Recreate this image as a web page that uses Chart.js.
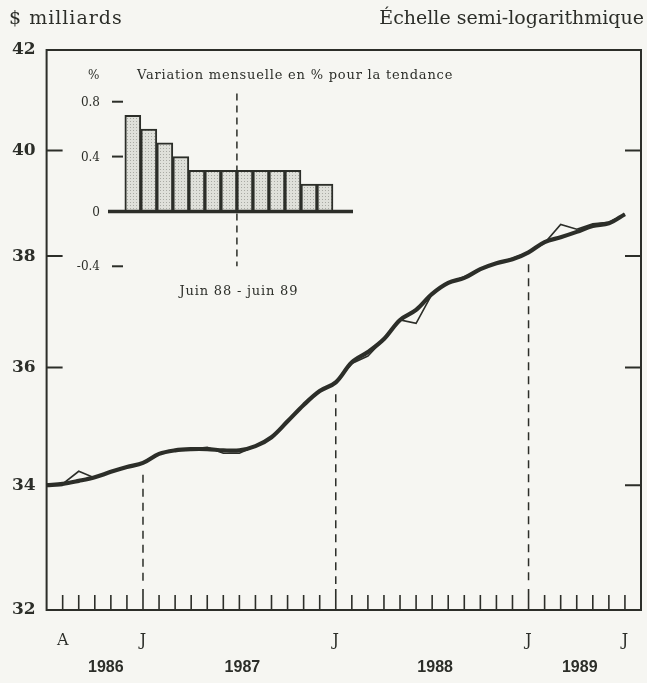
<!DOCTYPE html>
<html>
<head>
<meta charset="utf-8">
<script src="https://cdn.jsdelivr.net/npm/chart.js@4.4.0/dist/chart.umd.min.js"></script>
<style>
  html, body { margin: 0; padding: 0; background: #f6f6f2; }
  #wrap { position: relative; width: 647px; height: 683px; }
  canvas { position: absolute; left: 0; top: 0; }
  #insetChart { pointer-events: none; }
</style>
</head>
<body>
<div id="wrap">
  <canvas id="mainChart" width="647" height="683"></canvas>
  <canvas id="insetChart" width="647" height="683"></canvas>
</div>
<script>
// months on the x axis, juil. 86 (left edge) to août 89 (right edge)
const months = [
    "juil. 86", "août 86", "sept. 86", "oct. 86", "nov. 86", "déc. 86",
    "janv. 87", "févr. 87", "mars 87", "avr. 87", "mai 87", "juin 87",
    "juil. 87", "août 87", "sept. 87", "oct. 87", "nov. 87", "déc. 87",
    "janv. 88", "févr. 88", "mars 88", "avr. 88", "mai 88", "juin 88",
    "juil. 88", "août 88", "sept. 88", "oct. 88", "nov. 88", "déc. 88",
    "janv. 89", "févr. 89", "mars 89", "avr. 89", "mai 89", "juin 89",
    "juil. 89", "août 89"
];
const monthTicks = [
    "", "A", "", "", "", "", "J", "", "", "", "", "", "", "", "", "", "", "",
    "J", "", "", "", "", "", "", "", "", "", "", "", "J", "", "", "", "", "",
    "J", ""
];
const yearLabels = ["1986", "1987", "1988", "1989"];
const yearStart = [1, 6, 18, 30];
const yearEnd = [6, 18, 30, 36];
const janIndex = [6, 18, 30];

// $ milliards
const trend = [
    34.00, 34.02, 34.07, 34.13, 34.22, 34.30,
    34.37, 34.52, 34.58, 34.60, 34.60, 34.58, 34.58, 34.65, 34.80, 35.07, 35.35, 35.59,
    35.74, 36.09, 36.27, 36.50, 36.84, 37.02, 37.31, 37.51, 37.60, 37.76, 37.87, 37.94,
    38.07, 38.26, 38.35, 38.45, 38.56, 38.61, 38.78
];
const actual = [
    34.00, 34.02, 34.23, 34.12, 34.22, 34.31,
    34.37, 34.52, 34.58, 34.60, 34.63, 34.53, 34.53, 34.65, 34.80, 35.07, 35.36, 35.58,
    35.74, 36.07, 36.20, 36.50, 36.84, 36.78, 37.31, 37.51, 37.62, 37.75, 37.87, 37.96,
    38.07, 38.24, 38.59, 38.50, 38.60, 38.63, 38.78
];
const yTicks = [32, 34, 36, 38, 40, 42];

// inset: variation mensuelle en % pour la tendance
const insetMonths = [
    "juin 88", "juil. 88", "août 88", "sept. 88", "oct. 88", "nov. 88", "déc. 88",
    "janv. 89", "févr. 89", "mars 89", "avr. 89", "mai 89", "juin 89"
];
const insetValues = [0.7, 0.6, 0.5, 0.4, 0.3, 0.3, 0.3, 0.3, 0.3, 0.3, 0.3, 0.2, 0.2];
const insetTicks = [0.8, 0.4, 0, -0.4];

const ink = "#2c2e29";
const serif = "'DejaVu Serif', serif";

const mainDecor = {
    id: "mainDecor",
    afterDraw(chart) {
        const ctx = chart.ctx;
        const a = chart.chartArea;
        const xs = chart.scales.x;
        const ys = chart.scales.y;
        ctx.save();
        ctx.strokeStyle = ink;
        ctx.lineWidth = 2;
        ctx.strokeRect(a.left, a.top, a.right - a.left, a.bottom - a.top);

        // inward ticks on both sides
        yTicks.slice(1, -1).forEach(v => {
            const y = ys.getPixelForValue(v);
            ctx.beginPath();
            ctx.moveTo(a.left, y); ctx.lineTo(a.left + 16, y);
            ctx.moveTo(a.right, y); ctx.lineTo(a.right - 16, y);
            ctx.stroke();
        });
        ctx.lineWidth = 1.6;
        for (let i = 1; i < months.length - 1; i++) {
            const x = xs.getPixelForValue(i);
            const len = janIndex.includes(i) ? 21 : 15;
            ctx.beginPath();
            ctx.moveTo(x, a.bottom); ctx.lineTo(x, a.bottom - len);
            ctx.stroke();
        }

        // dashed year markers
        ctx.setLineDash([8, 6]);
        ctx.lineWidth = 1.5;
        janIndex.forEach(i => {
            const x = xs.getPixelForValue(i);
            ctx.beginPath();
            ctx.moveTo(x, ys.getPixelForValue(trend[i]) + 12);
            ctx.lineTo(x, a.bottom - 26);
            ctx.stroke();
        });
        ctx.setLineDash([]);

        ctx.fillStyle = ink;
        ctx.textBaseline = "middle";
        ctx.textAlign = "center";
        ctx.font = "bold 16px 'Liberation Sans', sans-serif";
        yearLabels.forEach((t, k) => {
            const x = (xs.getPixelForValue(yearStart[k]) + xs.getPixelForValue(yearEnd[k])) / 2;
            ctx.fillText(t, x + 3, a.bottom + 58);
        });

        ctx.font = "19px " + serif;
        ctx.textAlign = "left";
        ctx.letterSpacing = "1px";
        ctx.fillText("$ milliards", 9, 19);
        ctx.letterSpacing = "0px";
        ctx.textAlign = "right";
        ctx.fillText("Échelle semi-logarithmique", 644, 19);
        ctx.restore();
    }
};

new Chart(document.getElementById("mainChart"), {
    type: "line",
    data: {
        labels: months,
        datasets: [
            { label: "Tendance", data: trend, borderColor: ink, borderWidth: 4.2,
              tension: 0.35, pointRadius: 0 },
            { label: "Niveau", data: actual, borderColor: ink, borderWidth: 1.6,
              tension: 0, pointRadius: 0 }
        ]
    },
    options: {
        responsive: false,
        animation: false,
        layout: { padding: { top: 50, right: 6, left: 0, bottom: 0 } },
        plugins: { legend: { display: false }, tooltip: { enabled: false } },
        scales: {
            x: {
                type: "category",
                grid: { display: false, drawTicks: false },
                border: { display: false },
                ticks: {
                    autoSkip: false, maxRotation: 0, padding: 21, color: ink,
                    font: { family: serif, size: 16 },
                    callback: (v, i) => monthTicks[i]
                },
                afterFit: s => { s.height = 73; s.paddingLeft = 0; s.paddingRight = 0; }
            },
            y: {
                type: "logarithmic",
                min: 32, max: 42,
                afterBuildTicks: s => { s.ticks = yTicks.map(v => ({ value: v })); },
                grid: { display: false, drawTicks: false },
                border: { display: false },
                ticks: {
                    padding: 11, color: ink,
                    font: { family: serif, size: 17, weight: "bold" },
                    callback: v => String(v)
                },
                afterFit: s => { s.width = 46.6; s.paddingTop = 0; s.paddingBottom = 0; }
            }
        }
    },
    plugins: [mainDecor]
});

// dotted grey fill for the inset bars
function dotPattern() {
    const c = document.createElement("canvas");
    c.width = 3; c.height = 3;
    const g = c.getContext("2d");
    g.fillStyle = "#dfe0da";
    g.fillRect(0, 0, 3, 3);
    g.fillStyle = "#a9aaa4";
    g.fillRect(1, 1, 1, 1);
    return g.createPattern(c, "repeat");
}

const insetDecor = {
    id: "insetDecor",
    afterDatasetsDraw(chart) {
        const ctx = chart.ctx;
        const a = chart.chartArea;
        const xs = chart.scales.x;
        const ys = chart.scales.y;
        ctx.save();
        ctx.strokeStyle = ink;
        ctx.lineWidth = 3.5;
        ctx.beginPath();
        ctx.moveTo(a.left, ys.getPixelForValue(0));
        ctx.lineTo(a.right, ys.getPixelForValue(0));
        ctx.stroke();

        ctx.lineWidth = 2;
        ctx.fillStyle = ink;
        ctx.font = "12px " + serif;
        ctx.textBaseline = "middle";
        insetTicks.forEach(v => {
            const y = ys.getPixelForValue(v);
            if (v !== 0) {
                ctx.beginPath();
                ctx.moveTo(a.left + 4, y); ctx.lineTo(a.left + 15, y);
                ctx.stroke();
            }
            ctx.textAlign = "right";
            ctx.fillText(String(v), a.left - 8, y + 1);
        });

        const top = ys.getPixelForValue(0.8) - 26;
        ctx.textAlign = "left";
        ctx.fillText("%", a.left - 20, top);
        ctx.font = "13px " + serif;
        ctx.letterSpacing = "0.8px";
        ctx.fillText("Variation mensuelle en % pour la tendance", a.left + 29, top);

        const xm = xs.getPixelForValue(6.5);
        ctx.setLineDash([7, 5]);
        ctx.lineWidth = 1.5;
        ctx.beginPath();
        ctx.moveTo(xm, ys.getPixelForValue(0.86));
        ctx.lineTo(xm, ys.getPixelForValue(-0.4));
        ctx.stroke();
        ctx.setLineDash([]);

        ctx.textAlign = "center";
        ctx.fillText("Juin 88 - juin 89", xm + 2, ys.getPixelForValue(-0.4) + 25);
        ctx.restore();
    }
};

new Chart(document.getElementById("insetChart"), {
    type: "bar",
    data: {
        labels: insetMonths,
        datasets: [{
            label: "Variation mensuelle",
            data: insetValues.map((v, i) => ({ x: i, y: v })),
            backgroundColor: dotPattern(),
            borderColor: ink,
            borderWidth: 2,
            categoryPercentage: 1,
            barPercentage: 1
        }]
    },
    options: {
        responsive: false,
        animation: false,
        layout: { padding: { left: 108, right: 294, top: 88, bottom: 403 } },
        plugins: { legend: { display: false }, tooltip: { enabled: false } },
        scales: {
            x: { type: "linear", min: -1.55, max: 13.75, offset: false, display: false },
            y: { min: -0.5, max: 0.9, display: false }
        }
    },
    plugins: [insetDecor]
});
</script>
</body>
</html>
